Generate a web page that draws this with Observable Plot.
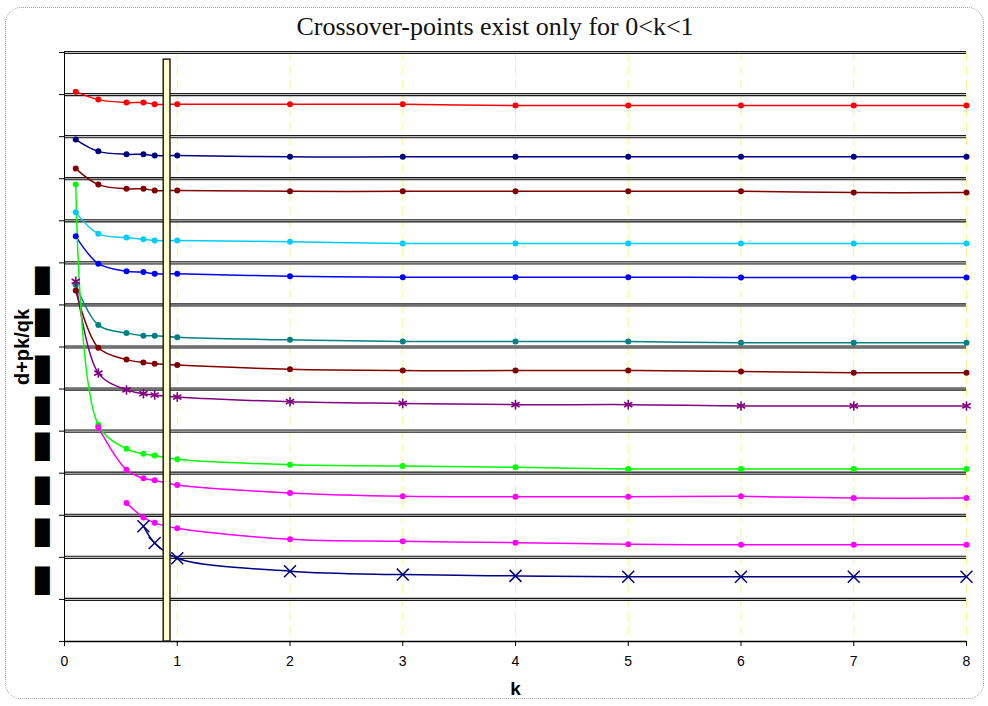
<!DOCTYPE html>
<html>
<head>
<meta charset="utf-8">
<script src="https://cdn.jsdelivr.net/npm/d3@7"></script>
<script src="https://cdn.jsdelivr.net/npm/@observablehq/plot@0.6"></script>
<style>
  html, body { margin: 0; padding: 0; background: #fff; }
  #wrap { position: relative; width: 988px; height: 706px; overflow: hidden; }
  #border { position: absolute; left: 5px; top: 7px; width: 979px; height: 692px;
            border: 1.5px dotted #a0a0a0; border-radius: 16px; box-sizing: border-box; }
  #title { position: absolute; left: 0; top: 12px; width: 990px; text-align: center;
           font-family: "Liberation Serif", serif; font-size: 26px; color: #111; }
  #chart { position: absolute; left: 0; top: 0; }
</style>
</head>
<body>
<div id="wrap">
  <div id="border"></div>
  <div id="chart"></div>
  <div id="title">Crossover-points exist only for 0&lt;k&lt;1</div>
</div>
<script>
// ---- data ----
const kAll = [0.1, 0.3, 0.55, 0.7, 0.8, 1, 2, 3, 4, 5, 6, 7, 8];
const xTicks = [0, 1, 2, 3, 4, 5, 6, 7, 8];
const yGrid = [1, 2, 3, 4, 5, 6, 7, 8, 9, 10, 11, 12, 13, 14];
const yLabelPositions = [8.51, 7.51, 6.41, 5.42, 4.58, 3.53, 2.53, 1.38]; // redacted tick labels
const yLabelText = ["█", "█", "█", "█", "█", "█", "█", "█"];

const redSeries      = [13.07, 12.88, 12.81, 12.81, 12.77, 12.77, 12.77, 12.77, 12.74, 12.74, 12.74, 12.74, 12.74];
const navySeries     = [11.93, 11.65, 11.58, 11.58, 11.55, 11.55, 11.52, 11.52, 11.52, 11.52, 11.52, 11.52, 11.52];
const maroonSeries   = [11.24, 10.86, 10.76, 10.76, 10.72, 10.72, 10.70, 10.70, 10.70, 10.70, 10.70, 10.67, 10.67];
const skySeries      = [10.20, 9.69, 9.60, 9.56, 9.53, 9.53, 9.50, 9.46, 9.46, 9.46, 9.46, 9.46, 9.46];
const blueSeries     = [9.63, 8.98, 8.80, 8.78, 8.74, 8.74, 8.68, 8.66, 8.66, 8.66, 8.65, 8.65, 8.65];
const tealSeries     = [8.48, 7.52, 7.33, 7.27, 7.27, 7.23, 7.17, 7.13, 7.13, 7.13, 7.10, 7.10, 7.10];
const maroon2Series  = [8.34, 6.98, 6.70, 6.63, 6.60, 6.57, 6.47, 6.44, 6.44, 6.44, 6.42, 6.39, 6.39];
const purpleSeries   = [8.56, 6.38, 5.98, 5.89, 5.86, 5.81, 5.70, 5.66, 5.63, 5.63, 5.60, 5.60, 5.60];
const greenSeries    = [10.86, 5.15, 4.58, 4.46, 4.42, 4.33, 4.20, 4.17, 4.14, 4.10, 4.10, 4.10, 4.10];
const magentaSeries  = [5.09, 4.08, 3.88, 3.83, 3.72, 3.53, 3.45, 3.44, 3.44, 3.45, 3.41, 3.41];       // from k=0.3
const magenta2Series = [3.29, 2.95, 2.82, 2.69, 2.43, 2.38, 2.35, 2.31, 2.30, 2.30, 2.30];             // from k=0.55
const crossSeries    = [2.74, 2.34, 1.98, 1.67, 1.59, 1.56, 1.54, 1.54, 1.54, 1.54];                   // from k=0.7

const barStart = 0.88, barEnd = 0.94, barTop = 13.83;

const seriesDefs = [
  {name: "s1",  color: "#ff0000", symbol: "circle",   values: redSeries},
  {name: "s2",  color: "#000080", symbol: "circle",   values: navySeries},
  {name: "s3",  color: "#800000", symbol: "circle",   values: maroonSeries},
  {name: "s4",  color: "#00ccff", symbol: "circle",   values: skySeries},
  {name: "s5",  color: "#0000ff", symbol: "circle",   values: blueSeries},
  {name: "s6",  color: "#008080", symbol: "circle",   values: tealSeries},
  {name: "s7",  color: "#800000", symbol: "circle",   values: maroon2Series},
  {name: "s8",  color: "#800080", symbol: "asterisk", values: purpleSeries},
  {name: "s9",  color: "#00ff00", symbol: "circle",   values: greenSeries},
  {name: "s10", color: "#ff00ff", symbol: "circle",   values: magentaSeries},
  {name: "s11", color: "#ff00ff", symbol: "circle",   values: magenta2Series},
  {name: "s12", color: "#000080", symbol: "times",    values: crossSeries}
];

const rows = [];
for (const s of seriesDefs) {
  const ks = kAll.slice(kAll.length - s.values.length);
  s.values.forEach((v, i) => rows.push({series: s.name, color: s.color, symbol: s.symbol, k: ks[i], v}));
}
const circles = rows.filter(d => d.symbol === "circle");
const stars = rows.filter(d => d.symbol === "asterisk");
const crosses = rows.filter(d => d.symbol === "times");

const chart = Plot.plot({
  width: 988,
  height: 706,
  marginLeft: 64,
  marginRight: 22,
  marginTop: 52,
  marginBottom: 65,
  style: {background: "transparent", fontFamily: "Liberation Sans, Arial, sans-serif", overflow: "visible"},
  x: {domain: [0, 8]},
  y: {domain: [0, 14]},
  color: {type: "identity"},
  marks: [
    // dashed yellow vertical gridlines
    Plot.ruleX(xTicks.filter(d => d > 0), {stroke: "#f6f68a", strokeWidth: 1, strokeDasharray: "9,5"}),
    // double horizontal gridlines
    Plot.ruleY(yGrid, {stroke: "#1a1a1a", strokeWidth: 3.2}),
    Plot.ruleY(yGrid, {stroke: "#c4c4c4", strokeWidth: 1.1}),
    // axes lines
    Plot.ruleY([0], {stroke: "#000", strokeWidth: 1.3}),
    Plot.ruleX([0], {stroke: "#000", strokeWidth: 1}),
    // series
    Plot.line(rows, {x: "k", y: "v", z: "series", stroke: "color", strokeWidth: 1.5, curve: "catmull-rom"}),
    Plot.dot(circles, {x: "k", y: "v", fill: "color", r: 3}),
    Plot.dot(stars, {x: "k", y: "v", stroke: "color", symbol: "asterisk", r: 4.5, strokeWidth: 1.6}),
    Plot.dot(crosses, {x: "k", y: "v", stroke: "color", symbol: "times", r: 5.5, strokeWidth: 1.5}),
    // vertical marker bar
    Plot.rect([{x1: barStart, x2: barEnd, y2: barTop}], {x1: "x1", x2: "x2", y1: 0, y2: "y2", fill: "#ffffcc", stroke: "#222", strokeWidth: 1.5}),
    // axes
    Plot.axisX({ticks: xTicks, tickSize: 5, tickPadding: 10, fontSize: 14, label: null}),
    Plot.axisY({ticks: [0, ...yGrid], tickSize: 5, tickFormat: () => "", label: null}),
    // redacted y tick labels
    Plot.text(yLabelPositions, {y: d => d, text: (d, i) => yLabelText[i], frameAnchor: "left", dx: -15, dy: -2,
      textAnchor: "end", fontSize: 24, fontFamily: "DejaVu Sans Mono", fill: "#000"}),
    // axis titles
    Plot.text(["d+pk/qk"], {text: d => d, frameAnchor: "left", textAnchor: "middle", rotate: -90, dx: -42, fontSize: 20, fontWeight: "bold", fill: "#000"}),
    Plot.text(["k"], {text: d => d, frameAnchor: "bottom", textAnchor: "middle", dy: 53, fontSize: 19, fontWeight: "bold", fill: "#000"})
  ]
});
document.getElementById("chart").appendChild(chart);
</script>
</body>
</html>
